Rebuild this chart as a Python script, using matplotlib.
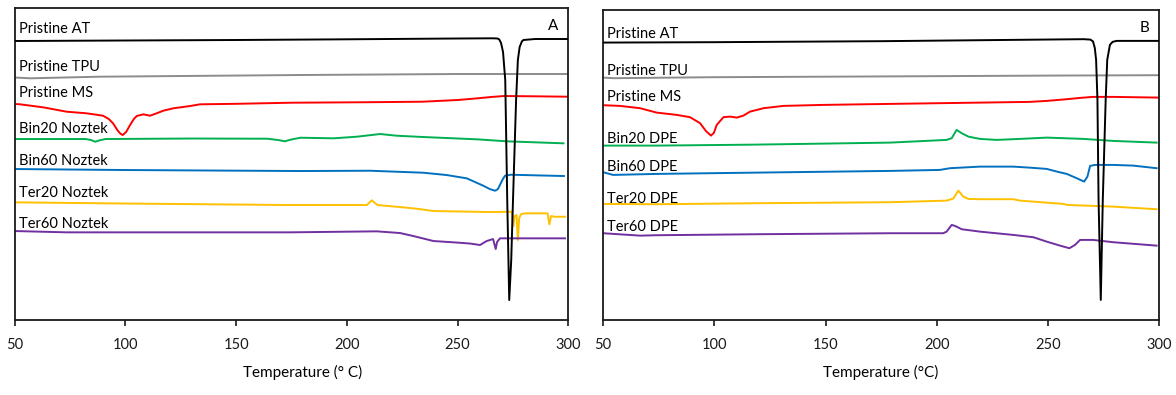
import matplotlib
matplotlib.use("Agg")
import matplotlib.pyplot as plt

plt.rcParams['font.family'] = ['Lato', 'DejaVu Sans']

# DSC heat flow traces (arbitrary units, stacked with offsets), temperature in deg C
# ---------- panel A : Noztek ----------
at_a_t = [50, 100, 150, 200, 250, 266, 268, 268.8, 269.6, 270.5, 271.5, 272.4, 273.3, 274.2, 275.0, 276.4, 277.2, 278, 279, 279.7, 285, 300]
at_a_y = [279, 279.5, 280, 280.7, 281.5, 281.7, 281.5, 280.5, 277, 268, 240, 120, 20, 60, 120, 220, 260, 273, 278.5, 280, 281, 281]

tpu_a_t = [50, 57, 88, 179, 250, 300]
tpu_a_y = [242.5, 241.7, 243.3, 245, 246, 246]

ms_a_t = [50, 52.4, 62.8, 73.5, 82.5, 89.9, 92.5, 94.4, 96.5, 97.8, 98.8, 100.3, 102.1, 103.8, 105.1, 108.1, 111.1,
          114.1, 117.1, 121.6, 129.2, 133.7, 150, 175, 210, 234, 250, 259, 265, 271, 285, 300]
ms_a_y = [216, 215.7, 212.7, 208.3, 206.7, 204.3, 201, 196.7, 189.5, 186.2, 185, 188, 195, 201, 204, 205.7, 204.3,
          206.7, 209.3, 211.7, 214, 215.7, 216.2, 217.3, 217.8, 218.3, 220, 221.7, 223, 224, 223.7, 223.3]

bin20_a_t = [50, 70, 82, 84.5, 86.3, 88.5, 91, 130, 164, 169, 172, 174, 176, 179, 194, 204.4, 215, 222.5, 234.5, 258.7, 272.2, 297.8]
bin20_a_y = [181, 181, 181, 180, 178.3, 179.8, 181, 181.5, 181.3, 180, 178.7, 180, 181, 182.3, 181.7, 183.3, 186, 184.3, 183, 180.7, 178.7, 176.7]

bin60_a_t = [50, 100, 179, 210.5, 234.5, 245, 254.1, 261.6, 264.5, 266.9, 268.2, 269.1, 270.3, 271.4, 274, 298]
bin60_a_y = [151, 150, 149, 149.3, 147.3, 145, 141.7, 134.3, 131, 129.3, 131, 135, 140.5, 144.3, 145.3, 144]

ter20_a_t = [50, 100, 174.4, 209, 211.2, 213.8, 224, 231.6, 239.1, 264.7, 274.5, 275.2, 275.7, 276.6, 277.2,
             277.8, 278.7, 280.5, 290.6, 291.4, 292.2, 293.7, 298.5]
ter20_a_y = [117.7, 116.5, 115, 115, 119.7, 115, 113, 111.3, 109, 108, 108.3, 94, 104, 105, 80,
             102, 106, 106.7, 106.7, 95.7, 104, 103.3, 103.3]

ter60_a_t = [50, 73.5, 174.4, 213.5, 224, 230, 239.1, 249.6, 255.6, 258.7, 260.1, 263.1, 266, 267.2, 267.8, 269.1, 298.5]
ter60_a_y = [89, 87.7, 87.7, 88.7, 87, 84, 79, 77.5, 76.5, 75.5, 75, 79, 81, 71, 78, 81.7, 81.7]

# ---------- panel B : DPE ----------
at_b_t = [50, 100, 175, 234, 266, 269, 270.2, 271, 271.6, 272.2, 272.7, 273.7, 274.6, 275.9, 276.6, 277.8, 279, 280.8, 300]
at_b_y = [277.3, 277.7, 278.7, 280, 280.7, 280.3, 278.5, 272, 260, 220, 120, 20, 120, 220, 260, 275, 278, 279, 279]

tpu_b_t = [50, 55, 100, 179, 250, 300]
tpu_b_y = [242.3, 241.7, 242.7, 243.5, 244.3, 244.7]

ms_b_t = [50, 57.6, 66.6, 74.1, 83.1, 89.1, 93.6, 96.2, 98.5, 99.8, 101.1, 104.1, 107.1, 110.1, 113.1, 116.1, 122.1,
          131.1, 149, 179, 241.6, 249.4, 258.5, 264.4, 270.2, 279.2, 300]
ms_b_y = [214.7, 214, 211.7, 207.3, 205, 202.7, 196.7, 189, 184.3, 187, 195, 202.7, 203.3, 202.3, 204.3, 208.3, 211.7,
          214, 215, 216, 218, 219, 220.7, 222, 223, 223, 222.3]

bin20_b_t = [50, 74.1, 119, 179, 204.4, 206.7, 208.9, 211.2, 214.2, 219.4, 226.9, 237.4, 249.4, 265.9, 279.2, 298.8]
bin20_b_y = [174.3, 174.3, 175.3, 177.3, 180, 181.7, 190, 186.7, 183.3, 181, 180, 181, 182.3, 181, 179, 177.3]

bin60_b_t = [50, 54.5, 74.1, 119, 179, 201.4, 205.9, 219.4, 234.4, 241.6, 249.4, 254, 258.4, 262.9, 266.2,
             267.7, 268.9, 271.1, 279.3, 288.3, 298.8]
bin60_b_y = [147.7, 145, 146, 147.3, 149, 150, 151.7, 153.3, 153.3, 152.3, 151, 148.3, 146, 141.7, 138.3,
             143.3, 154, 155, 155, 154.3, 151.7]

ter20_b_t = [50, 74.1, 119, 179, 204.4, 207.4, 209.7, 211.9, 214.2, 219.4, 234.4, 237.4, 256.9, 258.5, 279.3, 298.8]
ter20_b_y = [116, 115.7, 116.7, 117.7, 119.3, 121.3, 129.3, 123.3, 121, 120.7, 120.7, 119.3, 116, 115, 113.3, 110.7]

ter60_b_t = [50, 66.6, 74.1, 119, 179, 202.9, 204.4, 206.7, 208.2, 211.2, 219.4, 234.4, 243.4, 249.4, 255.4,
             259.6, 262.1, 264.4, 270.3, 279.3, 298.8]
ter60_b_y = [86.7, 84.3, 84.7, 85.7, 86.7, 86.7, 88.3, 95, 94, 90.7, 88.3, 85, 82.7, 78.3, 74.3,
             71.7, 75, 80, 80, 77.7, 74.3]

colors = ['#000000', '#8c8c8c', '#ff0000', '#00b050', '#0070c0', '#ffc000', '#7030a0']
names_a = ['Pristine AT', 'Pristine TPU', 'Pristine MS', 'Bin20 Noztek', 'Bin60 Noztek', 'Ter20 Noztek', 'Ter60 Noztek']
names_b = ['Pristine AT', 'Pristine TPU', 'Pristine MS', 'Bin20 DPE', 'Bin60 DPE', 'Ter20 DPE', 'Ter60 DPE']
label_y_a = [291, 253, 227, 191, 159, 127, 96]
label_y_b = [286, 249, 223, 181, 153, 121, 93]

curves_a = [(at_a_t, at_a_y), (tpu_a_t, tpu_a_y), (ms_a_t, ms_a_y), (bin20_a_t, bin20_a_y),
            (bin60_a_t, bin60_a_y), (ter20_a_t, ter20_a_y), (ter60_a_t, ter60_a_y)]
curves_b = [(at_b_t, at_b_y), (tpu_b_t, tpu_b_y), (ms_b_t, ms_b_y), (bin20_b_t, bin20_b_y),
            (bin60_b_t, bin60_b_y), (ter20_b_t, ter20_b_y), (ter60_b_t, ter60_b_y)]

fig = plt.figure(figsize=(11.76, 3.95), dpi=100)
ax_a = fig.add_axes([0.0125, 0.191, 0.4708, 0.788])
ax_b = fig.add_axes([0.5128, 0.190, 0.4730, 0.785])


def draw(ax, curves, names, label_y, letter, xlabel, ylim):
    # black AT drawn last so it sits on top, like the original
    order = [1, 2, 3, 4, 5, 6, 0]
    for i in order:
        t, y = curves[i]
        ax.plot(t, y, color=colors[i], lw=1.4, zorder=3 if i == 0 else 2,
                solid_joinstyle='round')
    for name, yy in zip(names, label_y):
        ax.text(51.8, yy, name, fontsize=10.5, va='center', ha='left', color='black')
    ax.text(0.973, 0.943, letter, transform=ax.transAxes, fontsize=11, ha='center', va='center', color='black')
    ax.set_xlim(50, 300)
    ax.set_ylim(*ylim)
    ax.set_xticks([50, 100, 150, 200, 250, 300])
    ax.set_yticks([])
    ax.tick_params(axis='x', direction='out', length=4, width=1.2, pad=9, labelsize=10.5, colors='#1a1a1a')
    for s in ax.spines.values():
        s.set_linewidth(1.3)
        s.set_color('#1a1a1a')
    ax.set_xlabel(xlabel, fontsize=11, color='black')


draw(ax_a, curves_a, names_a, label_y_a, 'A', 'Temperature (° C)', (0.5, 311.7))
draw(ax_b, curves_b, names_b, label_y_b, 'B', 'Temperature (°C)', (0, 310))
ax_a.xaxis.set_label_coords(0.52, -0.145)
ax_b.xaxis.set_label_coords(0.5, -0.145)

fig.savefig('out.png', dpi=100)
